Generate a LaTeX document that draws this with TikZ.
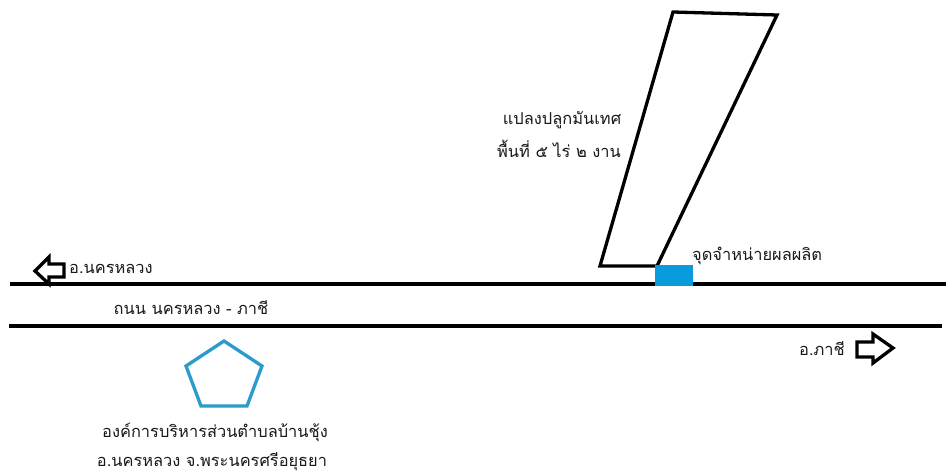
\documentclass[tikz,border=0pt]{standalone}
\usepackage{fontspec}
\newfontfamily\thaifont[Script=Thai]{Loma}
\definecolor{plotblue}{HTML}{0A9BDC}
\definecolor{pentblue}{HTML}{2A9BCB}
\tikzset{
  road/.style={line width=3.3pt,black},
  outline/.style={line width=3.3pt,black,line join=miter},
  lbl/.style={font=\thaifont\fontsize{16.4}{22}\selectfont,text=black!90,inner sep=0pt,align=center}
}
\begin{document}
\begin{tikzpicture}[x=1pt,y=-1pt]
\useasboundingbox (0,0) rectangle (949,473);
\fill[white] (0,0) rectangle (949,473);
\draw[road] (10,284) -- (946,284);
\draw[road] (9,326) -- (942,326);
\draw[outline] (673,12) -- (777,15) -- (657,266) -- (600,266) -- cycle;
\fill[plotblue] (655,265) rectangle (693,286);
\draw[line width=3.3pt,pentblue,line join=miter] (224,341) -- (262,366) -- (247,406) -- (201,406) -- (186,366) -- cycle;
\draw[outline] (35,271) -- (49,257) -- (49,264) -- (64,264) -- (64,277) -- (49,277) -- (49,284) -- cycle;
\draw[outline] (893,348) -- (873,334) -- (873,342) -- (857,342) -- (857,357) -- (873,357) -- (873,363) -- cycle;
\node[lbl] (plotname) at (562,120) {แปลงปลูกมันเทศ};
\node[lbl] (plotarea) at (559,149) {พื้นที่ ๕ ไร่ ๒ งาน};
\node[lbl,anchor=west] (sale) at (692,256) {จุดจำหน่ายผลผลิต};
\node[lbl,anchor=west] (west) at (69,269) {อ.นครหลวง};
\node[lbl] (roadname) at (191,308) {ถนน นครหลวง - ภาชี};
\node[lbl] (east) at (822,349) {อ.ภาชี};
\node[lbl] (org) at (215,432) {องค์การบริหารส่วนตำบลบ้านชุ้ง};
\node[lbl] (district) at (212,462) {อ.นครหลวง จ.พระนครศรีอยุธยา};
\end{tikzpicture}
\end{document}
